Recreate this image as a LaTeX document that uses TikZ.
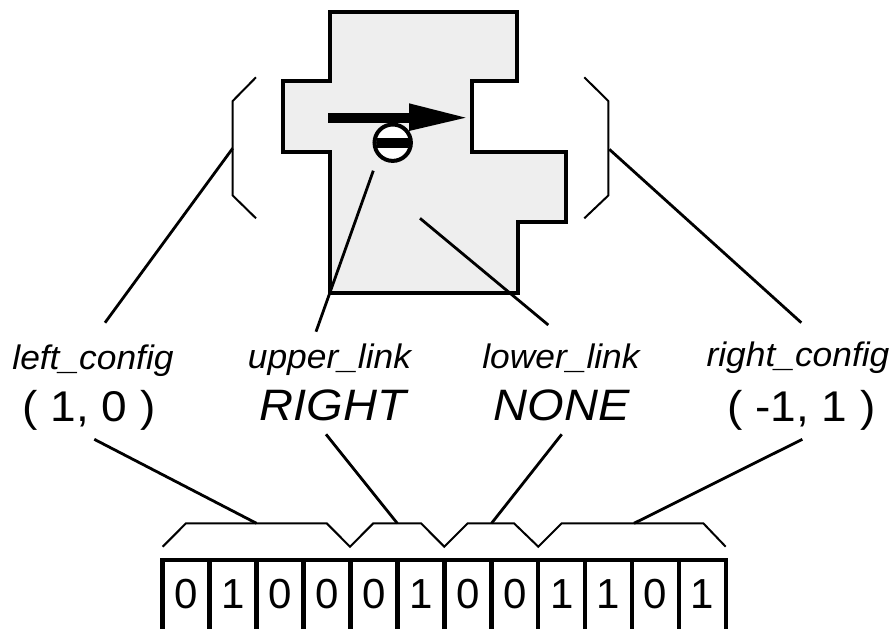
\documentclass[tikz,border=0pt]{standalone}
\usepackage{fontspec}
\setmainfont{Liberation Sans}
\newfontfamily\labelsans[FakeStretch=1.04]{Liberation Sans}
\newfontfamily\valuesans[FakeStretch=1.07]{Liberation Sans}
\definecolor{shapefill}{RGB}{238,238,238}
\begin{document}
\begin{tikzpicture}[x=1pt,y=-1pt,
  outline/.style={line width=4pt, line join=miter},
  leader/.style={line width=2.8pt},
  brace/.style={line width=2pt, line join=miter},
  cellbox/.style={line width=4.5pt},
  lbl/.style={font=\labelsans\fontsize{34}{34}\selectfont\itshape, anchor=base, inner sep=0pt},
  val/.style={font=\valuesans\fontsize{43}{43}\selectfont, anchor=base, inner sep=0pt},
  ival/.style={font=\valuesans\fontsize{44}{44}\selectfont\itshape, anchor=base, inner sep=0pt},
  bit/.style={font=\fontsize{42}{42}\selectfont, anchor=base, inner sep=0pt},
]
\useasboundingbox (0,0) rectangle (894,629);

% tile outline
\draw[outline, fill=shapefill] (330,12) -- (517,12) -- (517,81) -- (472,81)
  -- (472,152) -- (566,152) -- (566,222) -- (518,222) -- (518,293)
  -- (330,293) -- (330,152) -- (283,152) -- (283,81) -- (330,81) -- cycle;

% direction arrow
\fill (328,112.7) rectangle (409,122.7);
\fill (409,103.3) -- (465.7,117.7) -- (409,131) -- cycle;

% knob with bar
\node[circle, draw, line width=4pt, fill=white, minimum size=36.4pt, inner sep=0pt] (knob) at (392.7,142.7) {};
\begin{scope}
  \clip (knob.center) circle (16.5);
  \fill ([xshift=-20pt,yshift=-5pt]knob.center) rectangle ([xshift=20pt,yshift=5pt]knob.center);
\end{scope}

% side brackets
\draw[brace] (256,77.3) -- (232.7,101) -- (232.7,195.5) -- (256,218.3);
\draw[brace] (584.3,77.3) -- (608.3,101) -- (608.3,195.5) -- (584.3,218.3);

% labels
\node[lbl] (lconf) at (93,369) {left\_config};
\node[val] (lval)  at (89,421.7) {( 1, 0 )};
\node[lbl] (ulink) at (329.5,368) {upper\_link};
\node[ival] (uval) at (333,420) {RIGHT};
\node[lbl] (llink) at (561,368) {lower\_link};
\node[ival] (lwval) at (561.5,420) {NONE};
\node[lbl] (rconf) at (798,366) {right\_config};
\node[val] (rval)  at (801.5,421.7) {( -1, 1 )};

% leader end points
\coordinate (lbr)   at (232.7,148.3);
\coordinate (rbr)   at (609.3,149.3);
\coordinate (uknob) at (373.3,170.7);
\coordinate (lshape) at (420,218.3);
\coordinate (lconf-top) at (105,322.7);
\coordinate (ulink-top) at (316,331.7);
\coordinate (llink-top) at (548.3,325);
\coordinate (rconf-top) at (801.3,322.7);
\coordinate (lval-bot)  at (94.3,439.3);
\coordinate (uval-bot)  at (326,434.3);
\coordinate (lwval-bot) at (561.7,434.3);
\coordinate (rval-bot)  at (802.3,439.3);

% bit field braces
\coordinate (b1) at (256.5,523.3);
\coordinate (b2) at (397.3,523.3);
\coordinate (b3) at (491.5,523.3);
\coordinate (b4) at (634,523.3);
\draw[brace] (162.7,546.7) -- (186,523.3) -- (326.7,523.3) -- (350,546.7)
  -- (373.3,523.3) -- (421,523.3) -- (444.3,546.7) -- (467.7,523.3)
  -- (514,523.3) -- (538.3,546.7) -- (561.7,523.3) -- (703.3,523.3) -- (725.7,546.7);

% leaders
\draw[leader] (lbr) -- (lconf-top);
\draw[leader] (rbr) -- (rconf-top);
\draw[leader] (uknob) -- (ulink-top);
\draw[leader] (lshape) -- (llink-top);
\draw[leader] (lval-bot) -- (b1);
\draw[leader] (uval-bot) -- (b2);
\draw[leader] (lwval-bot) -- (b3);
\draw[leader] (rval-bot) -- (b4);

% bit cells
\foreach \b [count=\k from 0] in {0,1,0,0,0,1,0,0,1,1,0,1} {
  \pgfmathsetmacro{\xl}{162.7+\k*46.94}
  \draw[cellbox] (\xl,560) rectangle ({\xl+46.94},640);
  \node[bit] (bit\k) at ({\xl+23.47},608.3) {\b};
}
\end{tikzpicture}
\end{document}
